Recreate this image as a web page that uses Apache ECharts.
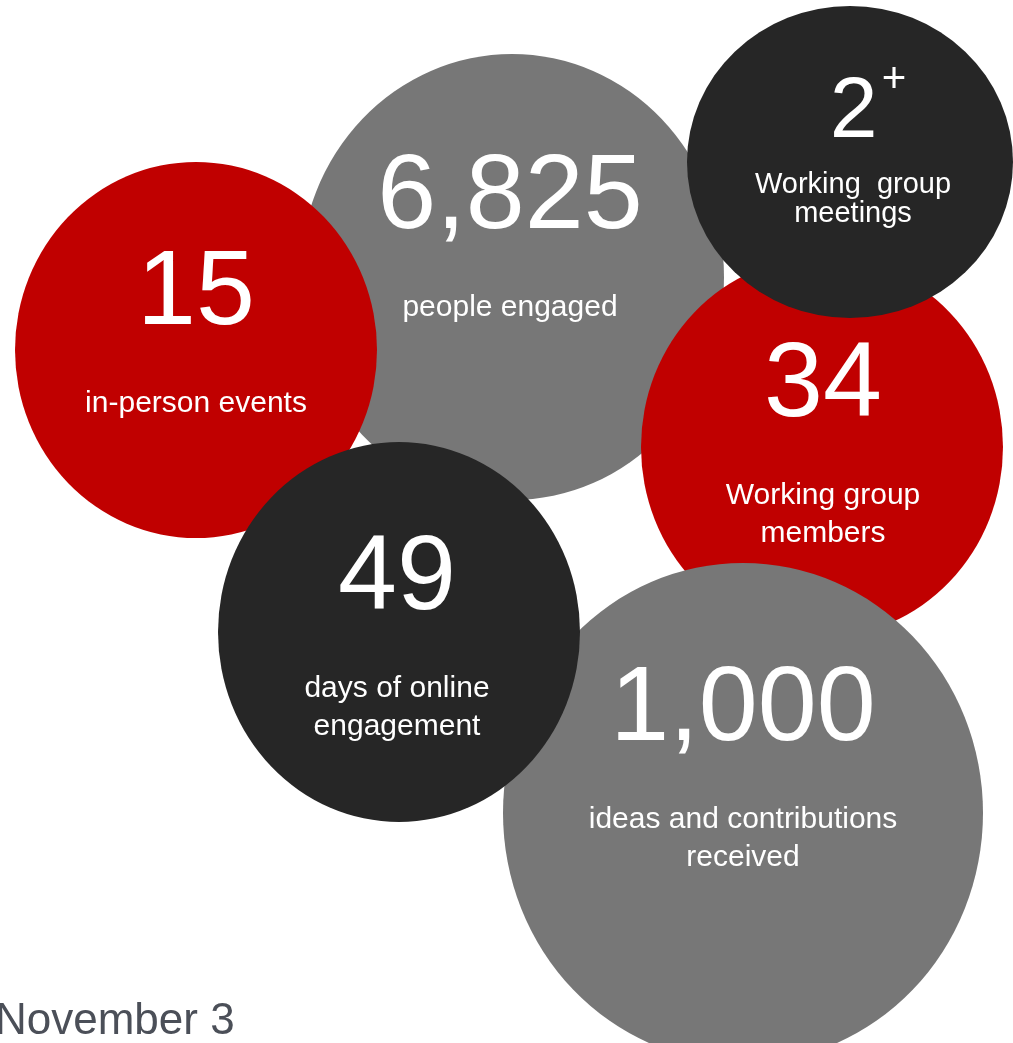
<!DOCTYPE html>
<html>
<head>
<meta charset="utf-8">
<script src="https://cdn.jsdelivr.net/npm/echarts@6/dist/echarts.min.js"></script>
<style>
  html, body { margin: 0; padding: 0; background: #fff; }
  #chart { width: 1013px; height: 1043px; }
</style>
</head>
<body>
<div id="chart"></div>
<script>
// bubbles, in drawing order (back to front)
const figures = ["6,825", "15", "34", "2", "1,000", "49"];
const captions = [
  "people engaged",
  "in-person events",
  "Working group\nmembers",
  "Working  group\nmeetings",
  "ideas and contributions\nreceived",
  "days of online\nengagement",
];
const centerX = [512, 196, 822, 850, 743, 399];
const centerY = [277, 350, 447, 162, 813, 632];
const widths = [424, 362, 362, 326, 480, 362];
const heights = [446, 376, 380, 312, 500, 380];
const colors = ["#777777", "#c00000", "#c00000", "#262626", "#777777", "#262626"];
const footer = "November 3";

// label block shift from the bubble centre
const labelShift = [[-2, -59], [0, -36], [1, -22], [3, -20], [0, -64], [-2, -14]];

const FONT = "'Liberation Sans', Arial, sans-serif";
const chart = echarts.init(document.getElementById("chart"));

const bubble = "path://M50,0A50,50,0,1,1,50,100A50,50,0,1,1,50,0Z";

const data = figures.map((f, i) => {
  const small = i === 3;
  const capLines = captions[i].split("\n").map((l) => `{${small ? "c2" : "c"}|${l}}`).join("\n");
  const head = small ? `{n2|${f}}{s|+}` : `{n|${f}}`;
  return {
    value: [centerX[i], centerY[i], widths[i], heights[i]],
    itemStyle: { color: colors[i] },
    label: {
      formatter: head + "\n" + capLines,
      offset: labelShift[i],
    },
  };
});

chart.setOption({
  animation: false,
  title: {
    text: footer,
    left: -5,
    top: 1000,
    padding: 0,
    textStyle: { fontFamily: FONT, fontSize: 44, fontWeight: "normal", color: "#4b4f58" },
  },
  grid: { left: 0, right: 0, top: 0, bottom: 0 },
  xAxis: { type: "value", min: 0, max: 1013, show: false },
  yAxis: { type: "value", min: 0, max: 1043, inverse: true, show: false },
  series: [
    {
      type: "scatter",
      symbol: bubble,
      symbolKeepAspect: false,
      symbolSize: (v) => [v[2], v[3]],
      itemStyle: { opacity: 1 },
      data: data,
      label: {
        show: true,
        position: "inside",
        align: "center",
        color: "#fff",
        opacity: 1,
        fontFamily: FONT,
        rich: {
          n: { fontFamily: FONT, fontSize: 106, lineHeight: 180, color: "#fff", align: "center" },
          n2: { fontFamily: FONT, fontSize: 86, lineHeight: 115, color: "#fff", padding: [0, 0, 0, 30] },
          s: { fontFamily: FONT, fontSize: 42, lineHeight: 115, color: "#fff", padding: [4, 0, 0, 4], verticalAlign: "top" },
          c: { fontFamily: FONT, fontSize: 30, lineHeight: 38, color: "#fff", align: "center" },
          c2: { fontFamily: FONT, fontSize: 29, lineHeight: 29, color: "#fff", align: "center" },
        },
      },
      emphasis: { disabled: true },
    },
  ],
});
</script>
</body>
</html>
